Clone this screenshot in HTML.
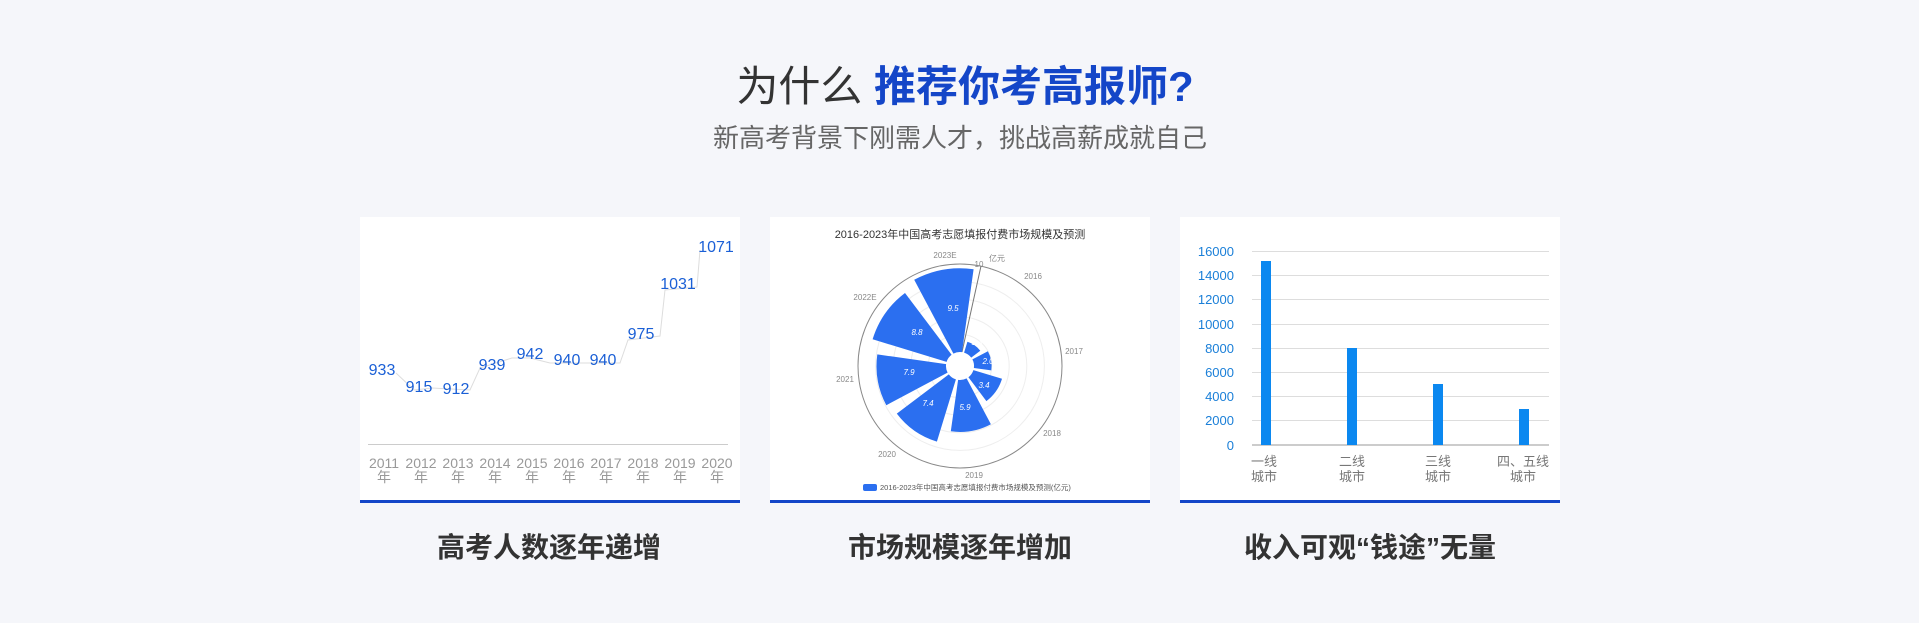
<!DOCTYPE html>
<html><head><meta charset="utf-8"><style>
html,body{margin:0;padding:0;background:#f5f6fa;}
svg{display:block;}
text{font-family:"Liberation Sans","Noto Sans CJK SC",sans-serif;}
</style></head><body>
<svg width="1919" height="623" viewBox="0 0 1919 623" xmlns="http://www.w3.org/2000/svg">
<rect width="1919" height="623" fill="#f5f6fa"/>
<text x="965" y="101" text-anchor="middle" font-size="42"><tspan fill="#333">为什么 </tspan><tspan fill="#1446c8" font-weight="bold">推荐你考高报师?</tspan></text>
<text x="960" y="147" text-anchor="middle" font-size="26" fill="#666">新高考背景下刚需人才，挑战高薪成就自己</text>

<rect x="360" y="217" width="380" height="284" fill="#fff"/>
<rect x="770" y="217" width="380" height="284" fill="#fff"/>
<rect x="1180" y="217" width="380" height="284" fill="#fff"/>
<rect x="360" y="500" width="380" height="3" fill="#1446c8"/>
<rect x="770" y="500" width="380" height="3" fill="#1446c8"/>
<rect x="1180" y="500" width="380" height="3" fill="#1446c8"/>

<g font-size="28" font-weight="bold" fill="#333" text-anchor="middle">
<text x="549" y="557">高考人数逐年递增</text>
<text x="960" y="557">市场规模逐年增加</text>
<text x="1370" y="557">收入可观“钱途”无量</text>
</g>

<line x1="368" y1="444.5" x2="728" y2="444.5" stroke="#ccc" stroke-width="1"/>
<polyline points="396,373 414,390 432,388 470,390 480,368 512,358 530,358 550,363 590,363 620,363 628,340 660,336 665,290 697,287 700,250" fill="none" stroke="#ddd" stroke-width="1"/>
<g font-size="16" fill="#1a5fd6" text-anchor="middle">
<text x="382" y="375">933</text>
<text x="419" y="392">915</text>
<text x="456" y="394">912</text>
<text x="492" y="370">939</text>
<text x="530" y="359">942</text>
<text x="567" y="365">940</text>
<text x="603" y="365">940</text>
<text x="641" y="339">975</text>
<text x="678" y="289">1031</text>
<text x="716" y="252">1071</text>
</g>
<g font-size="14" fill="#999" text-anchor="middle">
<text x="384" y="468">2011</text><text x="384" y="482">年</text>
<text x="421" y="468">2012</text><text x="421" y="482">年</text>
<text x="458" y="468">2013</text><text x="458" y="482">年</text>
<text x="495" y="468">2014</text><text x="495" y="482">年</text>
<text x="532" y="468">2015</text><text x="532" y="482">年</text>
<text x="569" y="468">2016</text><text x="569" y="482">年</text>
<text x="606" y="468">2017</text><text x="606" y="482">年</text>
<text x="643" y="468">2018</text><text x="643" y="482">年</text>
<text x="680" y="468">2019</text><text x="680" y="482">年</text>
<text x="717" y="468">2020</text><text x="717" y="482">年</text>
</g>

<text x="960" y="238" text-anchor="middle" font-size="11" fill="#333">2016-2023年中国高考志愿填报付费市场规模及预测</text>
<g fill="none" stroke="#eee" stroke-width="1">
<circle cx="960" cy="366" r="31.6"/><circle cx="960" cy="366" r="49.2"/><circle cx="960" cy="366" r="66.8"/><circle cx="960" cy="366" r="84.4"/>
</g>
<circle cx="960" cy="366" r="102" fill="none" stroke="#888" stroke-width="1"/>
<line x1="962" y1="352" x2="981" y2="266" stroke="#777" stroke-width="1"/>
<g fill="#2b6ff0">
<path d="M967.4,341.7 A25.4,25.4 0 0 1 980.3,350.7 L971.2,357.6 A14,14 0 0 0 964.1,352.6 Z"/>
<path d="M987.9,351.2 A31.6,31.6 0 0 1 991.3,370.4 L973.9,368.0 A14,14 0 0 0 972.4,359.4 Z"/>
<path d="M1002.0,378.8 A43.9,43.9 0 0 1 986.4,401.1 L968.4,377.2 A14,14 0 0 0 973.4,370.1 Z"/>
<path d="M990.9,424.2 A65.9,65.9 0 0 1 950.8,431.3 L958.1,379.9 A14,14 0 0 0 966.6,378.4 Z"/>
<path d="M936.9,441.6 A79.1,79.1 0 0 1 896.8,413.6 L948.8,374.4 A14,14 0 0 0 955.9,379.4 Z"/>
<path d="M886.3,405.2 A83.5,83.5 0 0 1 877.3,354.4 L946.1,364.1 A14,14 0 0 0 947.6,372.6 Z"/>
<path d="M872.6,339.3 A91.4,91.4 0 0 1 905.0,293.0 L951.6,354.8 A14,14 0 0 0 946.6,361.9 Z"/>
<path d="M914.2,279.8 A97.6,97.6 0 0 1 973.6,269.3 L962.0,352.1 A14,14 0 0 0 953.4,353.6 Z"/>
</g>
<g font-size="8" fill="#fff" text-anchor="middle" font-style="italic">
<text x="977" y="345">1.3</text><text x="988" y="364">2.0</text><text x="984" y="388">3.4</text>
<text x="965" y="410">5.9</text><text x="928" y="406">7.4</text><text x="909" y="375">7.9</text>
<text x="917" y="335">8.8</text><text x="953" y="311">9.5</text>
</g>
<g font-size="8" fill="#888" text-anchor="middle">
<text x="945" y="258">2023E</text><text x="997" y="261">亿元</text><text x="979" y="267">10</text>
<text x="1033" y="279">2016</text><text x="1074" y="354">2017</text><text x="1052" y="436">2018</text>
<text x="974" y="478">2019</text><text x="887" y="457">2020</text><text x="845" y="382">2021</text><text x="865" y="300">2022E</text>
</g>
<rect x="863" y="484" width="14" height="7" rx="2" fill="#2b6ff0"/>
<text x="880" y="490" font-size="7.5" fill="#555">2016-2023年中国高考志愿填报付费市场规模及预测(亿元)</text>

<g stroke="#ddd" stroke-width="1">
<line x1="1252" y1="251.5" x2="1549" y2="251.5"/><line x1="1252" y1="275.5" x2="1549" y2="275.5"/>
<line x1="1252" y1="299.5" x2="1549" y2="299.5"/><line x1="1252" y1="324.5" x2="1549" y2="324.5"/>
<line x1="1252" y1="348.5" x2="1549" y2="348.5"/><line x1="1252" y1="372.5" x2="1549" y2="372.5"/>
<line x1="1252" y1="396.5" x2="1549" y2="396.5"/><line x1="1252" y1="420.5" x2="1549" y2="420.5"/>
</g>
<line x1="1252" y1="445" x2="1549" y2="445" stroke="#999" stroke-width="1"/>
<g fill="#0b88f0">
<rect x="1261" y="261" width="10" height="184"/>
<rect x="1347" y="348" width="10" height="97"/>
<rect x="1433" y="384" width="10" height="61"/>
<rect x="1519" y="409" width="10" height="36"/>
</g>
<g font-size="13" fill="#1a7fd8" text-anchor="end">
<text x="1234" y="256">16000</text><text x="1234" y="280">14000</text><text x="1234" y="304">12000</text>
<text x="1234" y="329">10000</text><text x="1234" y="353">8000</text><text x="1234" y="377">6000</text>
<text x="1234" y="401">4000</text><text x="1234" y="425">2000</text><text x="1234" y="450">0</text>
</g>
<g font-size="13" fill="#777" text-anchor="middle">
<text x="1264" y="466">一线</text><text x="1264" y="481">城市</text>
<text x="1352" y="466">二线</text><text x="1352" y="481">城市</text>
<text x="1438" y="466">三线</text><text x="1438" y="481">城市</text>
<text x="1523" y="466">四、五线</text><text x="1523" y="481">城市</text>
</g>
</svg>
</body></html>
